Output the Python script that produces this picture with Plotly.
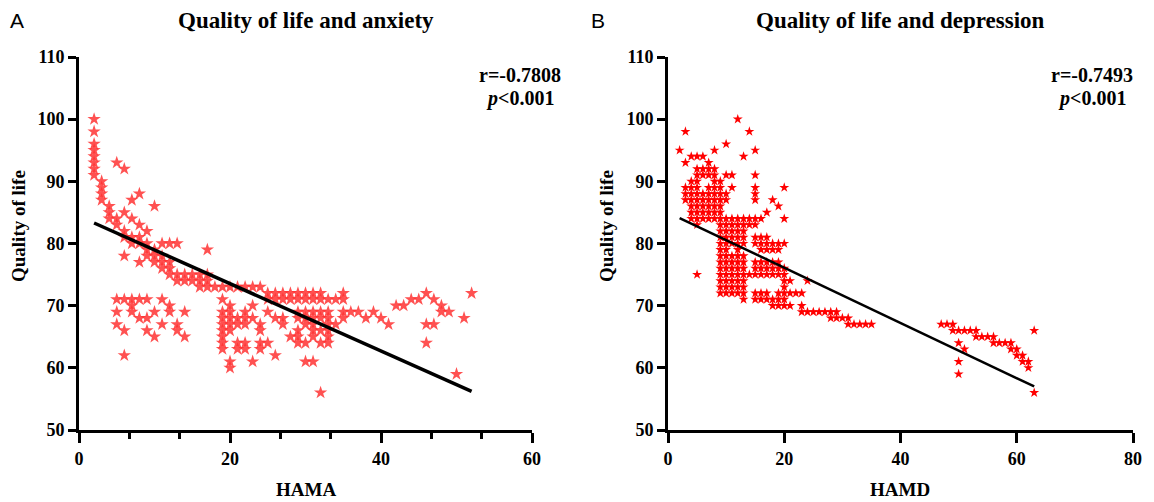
import plotly.graph_objects as go

# page body has an 8px default margin: the figure is sized to fit the window
OFF = 8
W, H = 1154 - OFF, 502 - OFF

# ---------------- Panel A data: Quality of life vs HAMA ----------------
anx_qol = [100, 98, 96, 95, 94, 93, 92, 91, 90, 89, 88, 87, 86, 85, 84, 83, 82, 81, 80,
           79, 78, 77, 76, 75, 74, 73, 72, 71, 70, 69, 68, 67, 66, 65, 64, 63, 62, 61,
           60, 59, 56]
anx_hama = [
    [2], [2], [2], [2], [2], [2, 5], [2, 6], [2], [3], [3], [3, 8], [3, 7], [4, 10],
    [4, 6], [4, 5, 7], [5, 8], [6, 9], [6, 7, 8], [7, 8, 9, 11, 12, 13],
    [9, 10, 17], [6, 9, 10, 11], [8, 10, 11, 12], [11, 12],
    [12, 13, 14, 15, 16, 17], [13, 14, 15, 16, 17],
    [16, 17, 18, 19, 20, 21, 22, 23, 24],
    [25, 26, 27, 28, 29, 30, 31, 32, 35, 46, 52],
    [5, 6, 7, 8, 9, 11, 19, 25, 26, 27, 28, 29, 30, 31, 32, 33, 34, 35, 44, 45, 47],
    [7, 12, 20, 23, 42, 43, 48],
    [5, 7, 10, 12, 14, 19, 20, 22, 25, 29, 30, 31, 32, 33, 35, 36, 37, 39, 48, 49],
    [8, 9, 19, 20, 21, 22, 23, 26, 27, 29, 30, 31, 32, 33, 35, 38, 40, 51],
    [5, 11, 13, 19, 20, 21, 22, 24, 27, 30, 31, 33, 34, 41, 46, 47],
    [6, 9, 13, 19, 20, 24, 29, 31, 32, 33],
    [10, 14, 19, 28, 29, 31, 33],
    [19, 21, 22, 24, 25, 29, 30, 32, 33, 46],
    [19, 21, 22, 24],
    [6, 26],
    [20, 23, 30, 31],
    [20], [50], [32],
]
anx_fit_x = [2, 52]
anx_fit_y = [83.3, 56.2]
anx_r = "r=-0.7808"

# ---------------- Panel B data: Quality of life vs HAMD ----------------
dep_qol = [100, 98, 96, 95, 94, 93, 92, 91, 90, 89, 88, 87, 86, 85, 84, 83, 82, 81, 80,
           79, 78, 77, 76, 75, 74, 73, 72, 71, 70, 69, 68, 67, 66, 65, 64, 63, 62, 61,
           60, 59, 56]
dep_hamd = [
    [12], [3, 14], [10], [2, 8, 15], [4, 5, 6, 13], [3, 7], [5, 6, 7, 8],
    [5, 6, 7, 8, 10, 11, 15], [4, 5, 8, 9],
    [3, 4, 5, 7, 8, 9, 11, 15, 20],
    [3, 4, 5, 6, 7, 8, 9, 10, 15],
    [3, 4, 5, 6, 7, 8, 9, 10, 15, 18],
    [4, 5, 6, 7, 8, 9, 19],
    [4, 5, 6, 7, 8, 9, 17],
    [4, 5, 6, 7, 8, 9, 10, 11, 12, 13, 14, 15, 16, 20],
    [5, 9, 10, 11, 12, 13, 14, 15],
    [9, 10, 11, 12, 13],
    [9, 10, 11, 12, 13, 15, 16, 17],
    [9, 10, 11, 12, 13, 15, 16, 17, 18, 19, 20],
    [9, 10, 12, 16, 17, 18, 19],
    [9, 10, 11, 12, 13],
    [9, 10, 11, 12, 13, 15, 16, 17, 18, 19],
    [9, 10, 11, 12, 13, 15, 16, 17, 18, 19, 20],
    [5, 9, 10, 11, 12, 13, 14, 15, 16, 17, 18, 19, 20],
    [9, 10, 11, 12, 13, 20, 21, 24],
    [9, 10, 11, 12, 13, 20],
    [9, 10, 11, 12, 13, 15, 16, 17, 19, 20, 21, 22, 23],
    [13, 15, 16, 17, 18, 19, 20],
    [18, 19, 20, 21, 23],
    [23, 24, 25, 26, 27, 28, 29],
    [28, 29, 30, 31],
    [31, 32, 33, 34, 35, 47, 48, 49],
    [49, 50, 51, 52, 53, 63],
    [53, 54, 55, 56],
    [50, 56, 57, 58, 59],
    [51, 59, 60],
    [60, 61],
    [50, 61, 62],
    [62], [50], [63],
]
dep_fit_x = [2, 63]
dep_fit_y = [84.1, 57.0]
dep_r = "r=-0.7493"

x_ticks_a = [0, 20, 40, 60]
x_minor_a = [20 / 3, 40 / 3, 80 / 3, 100 / 3, 140 / 3, 160 / 3]
x_ticks_b = [0, 20, 40, 60, 80]
y_ticks = [50, 60, 70, 80, 90, 100, 110]


def flatten(qs, rows):
    xs, ys = [], []
    for q, row in zip(qs, rows):
        for v in row:
            xs.append(v)
            ys.append(q)
    return xs, ys


ax, ay = flatten(anx_qol, anx_hama)
bx, by = flatten(dep_qol, dep_hamd)

SERIF = "Liberation Serif, Times New Roman, serif"
SANS = "Liberation Sans, Arial, sans-serif"

fig = go.Figure()
fig.add_trace(go.Scatter(x=ax, y=ay, mode="markers", xaxis="x", yaxis="y",
                         marker=dict(symbol="star", size=10, color="rgba(255,50,50,0.85)",
                                     line=dict(width=0)),
                         showlegend=False, hoverinfo="x+y"))
fig.add_trace(go.Scatter(x=anx_fit_x, y=anx_fit_y, mode="lines", xaxis="x", yaxis="y",
                         line=dict(color="black", width=3.5), showlegend=False))
fig.add_trace(go.Scatter(x=bx, y=by, mode="markers", xaxis="x2", yaxis="y2",
                         marker=dict(symbol="star", size=7.5, color="#FF0000",
                                     line=dict(width=0)),
                         showlegend=False, hoverinfo="x+y"))
fig.add_trace(go.Scatter(x=dep_fit_x, y=dep_fit_y, mode="lines", xaxis="x2", yaxis="y2",
                         line=dict(color="black", width=2.5), showlegend=False))


def px(x):
    return (x - OFF) / W


def py(y):
    return 1 - (y - OFF) / H


tickfont = dict(family=SERIF, size=18, color="black", weight="bold")
common_axis = dict(showline=True, linewidth=3, linecolor="black", showgrid=False,
                   zeroline=False, ticks="outside", tickwidth=3, tickcolor="black",
                   tickfont=tickfont, automargin=False, fixedrange=True)

fig.update_layout(
    width=W, height=H, autosize=False,
    margin=dict(l=0, r=0, t=0, b=0),
    plot_bgcolor="white", paper_bgcolor="white",
    xaxis=dict(domain=[px(79), px(532)], range=[0, 60], anchor="y",
               tickvals=x_ticks_a, ticklen=10,
               minor=dict(tickvals=x_minor_a, ticks="outside", ticklen=6,
                          tickwidth=3, tickcolor="black"),
               **common_axis),
    yaxis=dict(domain=[py(430), py(57)], range=[50, 110], anchor="x",
               tickvals=y_ticks, ticklen=8, **common_axis),
    xaxis2=dict(domain=[px(668), px(1133)], range=[0, 80], anchor="y2",
                tickvals=x_ticks_b, ticklen=10, **common_axis),
    yaxis2=dict(domain=[py(430), py(57)], range=[50, 110], anchor="x2",
                tickvals=y_ticks, ticklen=8, **common_axis),
)

ann = []
title_font = dict(family=SERIF, size=23, color="black", weight="bold")
lab_font = dict(family=SERIF, size=19, color="black", weight="bold")
stat_font = dict(family=SERIF, size=20, color="black", weight="bold")
panel_font = dict(family=SANS, size=21, color="black")

ann.append(dict(text="A", x=px(8), y=py(20), xanchor="left", yanchor="middle", font=panel_font))
ann.append(dict(text="B", x=px(589), y=py(20), xanchor="left", yanchor="middle", font=panel_font))
ann.append(dict(text="Quality of life and anxiety", x=px(306), y=py(21), xanchor="center",
                yanchor="middle", font=title_font))
ann.append(dict(text="Quality of life and depression", x=px(900), y=py(21), xanchor="center",
                yanchor="middle", font=title_font))
ann.append(dict(text="HAMA", x=px(306), y=py(489), xanchor="center", yanchor="middle", font=lab_font))
ann.append(dict(text="HAMD", x=px(900), y=py(489), xanchor="center", yanchor="middle", font=lab_font))
ann.append(dict(text="Quality of life", x=px(18), y=py(226), xanchor="center", yanchor="middle",
                textangle=-90, font=lab_font))
ann.append(dict(text="Quality of life", x=px(606), y=py(226), xanchor="center", yanchor="middle",
                textangle=-90, font=lab_font))
ann.append(dict(text=anx_r, x=px(520), y=py(75), xanchor="center", yanchor="middle", font=stat_font))
ann.append(dict(text="<i>p</i>&lt;0.001", x=px(520), y=py(98), xanchor="center", yanchor="middle",
                font=stat_font))
ann.append(dict(text=dep_r, x=px(1092), y=py(75), xanchor="center", yanchor="middle", font=stat_font))
ann.append(dict(text="<i>p</i>&lt;0.001", x=px(1092), y=py(98), xanchor="center", yanchor="middle",
                font=stat_font))
for a in ann:
    a.update(xref="paper", yref="paper", showarrow=False)
fig.update_layout(annotations=ann)

fig.write_html("out.html")
